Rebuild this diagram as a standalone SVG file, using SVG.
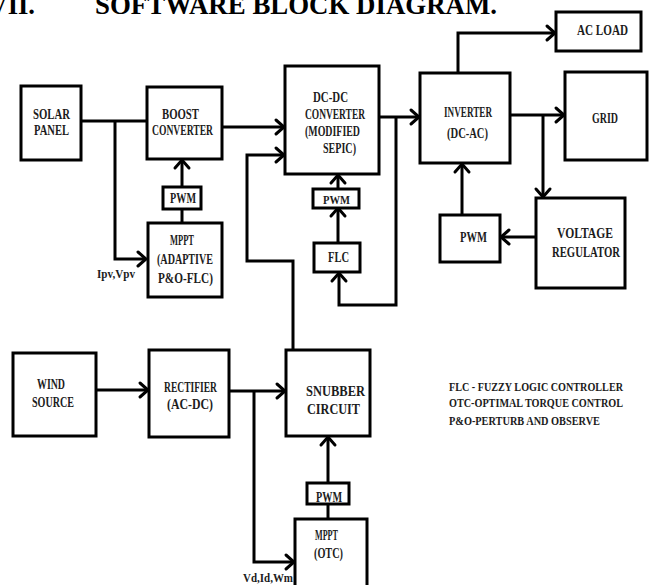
<svg xmlns="http://www.w3.org/2000/svg" width="649" height="585" viewBox="0 0 649 585">
<defs>
<marker id="ah" markerUnits="userSpaceOnUse" markerWidth="20" markerHeight="20" viewBox="-12 -10 14 20" refX="0" refY="0" orient="auto">
<path d="M-8,-7 L0,0 L-8,7" fill="none" stroke="#000" stroke-width="3" stroke-linecap="round" stroke-linejoin="miter"/>
</marker>
</defs>
<style>
rect{fill:#fff;stroke:#000;stroke-width:3}
text{font-family:"Liberation Serif","Times New Roman",serif;font-weight:bold;fill:#1c1c1c;font-size:14px}
.s{font-size:12px}
.lg{font-size:13px}
.c path{fill:none;stroke:#000;stroke-width:3}
.c .a{marker-end:url(#ah)}
</style>
<rect width="649" height="585" style="fill:#fff;stroke:none"/>
<g id="title">
<text x="35" y="14" text-anchor="end" style="font-size:26.6px;fill:#000">VII.</text>
<text x="95" y="14" style="font-size:26.6px;fill:#000" textLength="402" lengthAdjust="spacingAndGlyphs">SOFTWARE BLOCK DIAGRAM.</text>
</g>
<g class="c" id="connectors">
<path d="M81,121 H147"/>
<path class="a" d="M115,121 V259 H146"/>
<path d="M182,223 V209"/>
<path class="a" d="M182,187 V160"/>
<path class="a" d="M222,127 H284"/>
<path class="a" d="M293,349 V261 H247 V155 H284"/>
<path class="a" d="M379,117 H419"/>
<path class="a" d="M396,117 V305 H339 V273"/>
<path class="a" d="M338,243 V208"/>
<path class="a" d="M338,189 V175"/>
<path class="a" d="M458,73 V33 H555"/>
<path class="a" d="M510,115 H564"/>
<path class="a" d="M543,115 V197"/>
<path class="a" d="M536,237 H501"/>
<path class="a" d="M462,215 V164"/>
<path class="a" d="M96,390 H148"/>
<path class="a" d="M229,391 H285"/>
<path class="a" d="M254,391 V562 H294"/>
<path d="M328,519 V504"/>
<path class="a" d="M328,483 V437"/>
</g>
<g id="solar"><rect x="21" y="86" width="60" height="74"/>
<text x="33" y="119" textLength="37" lengthAdjust="spacingAndGlyphs">SOLAR</text>
<text x="34" y="135" textLength="35" lengthAdjust="spacingAndGlyphs">PANEL</text></g>
<g id="boost"><rect x="147" y="87" width="75" height="72"/>
<text x="162" y="119" textLength="37" lengthAdjust="spacingAndGlyphs">BOOST</text>
<text x="152" y="135" textLength="61" lengthAdjust="spacingAndGlyphs">CONVERTER</text></g>
<g id="pwm1"><rect x="163" y="187" width="38" height="22"/>
<text x="170" y="203" textLength="26" lengthAdjust="spacingAndGlyphs">PWM</text></g>
<g id="mppt1"><rect x="148" y="223" width="74" height="74"/>
<text x="170" y="245" textLength="24" lengthAdjust="spacingAndGlyphs">MPPT</text>
<text x="157" y="264" textLength="56" lengthAdjust="spacingAndGlyphs">(ADAPTIVE</text>
<text x="158" y="283" textLength="55" lengthAdjust="spacingAndGlyphs">P&amp;O-FLC)</text></g>
<g id="ipv"><text class="s" x="97" y="278" textLength="38" lengthAdjust="spacingAndGlyphs">Ipv,Vpv</text></g>
<g id="dcdc"><rect x="285" y="66" width="94" height="108"/>
<text x="313" y="102" textLength="35" lengthAdjust="spacingAndGlyphs">DC-DC</text>
<text x="305" y="119" textLength="60" lengthAdjust="spacingAndGlyphs">CONVERTER</text>
<text x="305" y="136" textLength="55" lengthAdjust="spacingAndGlyphs">(MODIFIED</text>
<text x="323" y="153" textLength="33" lengthAdjust="spacingAndGlyphs">SEPIC)</text></g>
<g id="pwm2"><rect x="313" y="189" width="46" height="19"/>
<text class="s" x="323" y="204" textLength="27" lengthAdjust="spacingAndGlyphs">PWM</text></g>
<g id="flc"><rect x="314" y="243" width="46" height="29"/>
<text x="328" y="262" textLength="21" lengthAdjust="spacingAndGlyphs">FLC</text></g>
<g id="inverter"><rect x="420" y="73" width="90" height="90"/>
<text x="444" y="117" textLength="48" lengthAdjust="spacingAndGlyphs">INVERTER</text>
<text x="447" y="138" textLength="41" lengthAdjust="spacingAndGlyphs">(DC-AC)</text></g>
<g id="acload"><rect x="556" y="12" width="85" height="39"/>
<text x="577" y="35" textLength="51" lengthAdjust="spacingAndGlyphs">AC  LOAD</text></g>
<g id="grid"><rect x="565" y="72" width="82" height="88"/>
<text x="592" y="123" textLength="26" lengthAdjust="spacingAndGlyphs">GRID</text></g>
<g id="vreg"><rect x="536" y="198" width="89" height="90"/>
<text x="557" y="238" textLength="56" lengthAdjust="spacingAndGlyphs">VOLTAGE</text>
<text x="552" y="257" textLength="68" lengthAdjust="spacingAndGlyphs">REGULATOR</text></g>
<g id="pwm3"><rect x="440" y="215" width="60" height="47"/>
<text x="460" y="242" textLength="27" lengthAdjust="spacingAndGlyphs">PWM</text></g>
<g id="wind"><rect x="13" y="353" width="83" height="83"/>
<text x="37" y="389" textLength="28" lengthAdjust="spacingAndGlyphs">WIND</text>
<text x="32" y="407" textLength="42" lengthAdjust="spacingAndGlyphs">SOURCE</text></g>
<g id="rectifier"><rect x="149" y="350" width="80" height="87"/>
<text x="164" y="392" textLength="53" lengthAdjust="spacingAndGlyphs">RECTIFIER</text>
<text x="167" y="409" textLength="46" lengthAdjust="spacingAndGlyphs">(AC-DC)</text></g>
<g id="snubber"><rect x="286" y="350" width="84" height="86"/>
<text x="306" y="396" style="font-size:15.5px" textLength="59" lengthAdjust="spacingAndGlyphs">SNUBBER</text>
<text x="307" y="414" style="font-size:15.5px" textLength="53" lengthAdjust="spacingAndGlyphs">CIRCUIT</text></g>
<g id="pwm4"><rect x="307" y="483" width="42" height="21"/>
<text x="316" y="502" textLength="26" lengthAdjust="spacingAndGlyphs">PWM</text></g>
<g id="mppt2"><rect x="295" y="519" width="72" height="72"/>
<text x="315" y="540" textLength="23" lengthAdjust="spacingAndGlyphs">MPPT</text>
<text x="314" y="558" textLength="29" lengthAdjust="spacingAndGlyphs">(OTC)</text></g>
<g id="vd"><text class="s" x="243" y="582" textLength="50" lengthAdjust="spacingAndGlyphs">Vd,Id,Wm</text></g>
<g id="legend">
<text class="lg" x="449" y="391" textLength="174" lengthAdjust="spacingAndGlyphs">FLC - FUZZY LOGIC CONTROLLER</text>
<text class="lg" x="449" y="407" textLength="174" lengthAdjust="spacingAndGlyphs">OTC-OPTIMAL TORQUE CONTROL</text>
<text class="lg" x="449" y="425" textLength="151" lengthAdjust="spacingAndGlyphs">P&amp;O-PERTURB AND OBSERVE</text>
</g>
</svg>
